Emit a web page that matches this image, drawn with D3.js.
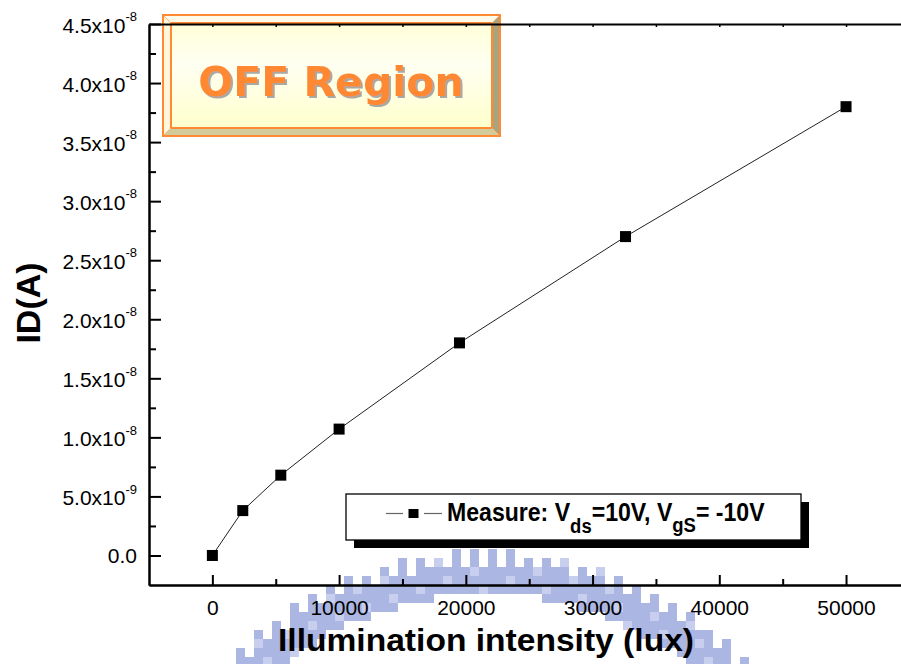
<!DOCTYPE html>
<html>
<head>
<meta charset="utf-8">
<script src="https://cdn.jsdelivr.net/npm/d3@7"></script>
<style>
  html, body { margin: 0; padding: 0; background: #fff; overflow: hidden; }
  svg { display: block; }
</style>
</head>
<body>
<svg id="chart" width="901" height="664"></svg>
<script>
// Measured drain current vs. illumination (OFF region)
const illuminance = [0, 2400, 5400, 10000, 19500, 32600, 50000];      // lux
const drainCurrent = [0, 3.8e-9, 6.8e-9, 1.07e-8, 1.8e-8, 2.7e-8, 3.8e-8]; // A

const xMajorTicks = [0, 10000, 20000, 30000, 40000, 50000];
const xMinorTicks = [5000, 15000, 25000, 35000, 45000];
const xTopTicks = [0, 5000, 10000, 15000, 20000, 25000, 30000, 35000, 40000, 45000, 50000];

const yMajorTicks = [0, 5e-9, 1e-8, 1.5e-8, 2e-8, 2.5e-8, 3e-8, 3.5e-8, 4e-8, 4.5e-8];
const yTickMantissa = ["0.0", "5.0x10", "1.0x10", "1.5x10", "2.0x10", "2.5x10", "3.0x10", "3.5x10", "4.0x10", "4.5x10"];
const yTickExponent = ["", "-9", "-8", "-8", "-8", "-8", "-8", "-8", "-8", "-8"];
const yMinorTicks = [2.5e-9, 7.5e-9, 1.25e-8, 1.75e-8, 2.25e-8, 2.75e-8, 3.25e-8, 3.75e-8, 4.25e-8];

const xTitle = "Illumination intensity (lux)";
const yTitle = "ID(A)";
const boxTitle = "OFF Region";

const svg = d3.select("#chart");
const W = 901, H = 664;

const x = d3.scaleLinear().domain([-5000, 55000]).range([149, 909.4]);
const y = d3.scaleLinear().domain([-2.5e-9, 4.5e-8]).range([585, 24]);

const sans = "'Liberation Sans', Arial, sans-serif";
const defs = svg.append("defs");

// ---- faint pixel seal behind the x-axis title ----
const seal = svg.append("g").attr("class", "seal");
const sealCx = 487, sealCy = 920, sealR = 368, sealBand = 42, cell = 9;
const sealCells = [];
for (let gx = 236; gx < 744; gx += cell) {
  for (let gy = 540; gy < H; gy += cell) {
    const cx = gx + cell / 2, cy = gy + cell / 2;
    const d = Math.hypot(cx - sealCx, cy - sealCy);
    const col = Math.floor((gx - 236) / cell);
    const row = Math.floor((gy - 540) / cell);
    if (d < sealR - sealBand || d > sealR) continue;
    if (d > sealR - 12 && col % 2 === 1) continue;
    sealCells.push({ gx, gy, col, row });
  }
}
seal.selectAll("rect").data(sealCells).join("rect")
  .attr("x", d => d.gx).attr("y", d => d.gy)
  .attr("width", cell).attr("height", cell)
  .attr("fill", d => ((d.col * 3 + d.row * 2) % 7 === 0) ? "#c8cfee" : "#abb6e2");

// ---- axes ----
function styleAxis(g) {
  g.attr("font-family", sans);
  g.select(".domain").attr("stroke", "#000").attr("stroke-width", 2);
  g.selectAll(".tick line").attr("stroke", "#000").attr("stroke-width", 2);
}

const gxAxis = svg.append("g").attr("transform", "translate(0,585)")
  .call(d3.axisBottom(x).tickValues(xMajorTicks).tickSize(-10).tickSizeOuter(0)
    .tickFormat(d3.format("d")));
styleAxis(gxAxis);
gxAxis.selectAll(".tick text").attr("font-size", 21).attr("fill", "#000")
  .attr("y", 30).attr("dy", 0);

const gxMinor = svg.append("g").attr("transform", "translate(0,585)")
  .call(d3.axisBottom(x).tickValues(xMinorTicks).tickSize(-6).tickSizeOuter(0).tickFormat(""));
styleAxis(gxMinor);

const gyAxis = svg.append("g").attr("transform", "translate(149,0)")
  .call(d3.axisLeft(y).tickValues(yMajorTicks).tickSize(-12).tickSizeOuter(0)
    .tickPadding(12).tickFormat((d, i) => yTickMantissa[i]));
styleAxis(gyAxis);
gyAxis.selectAll(".tick text")
  .attr("font-size", 21).attr("fill", "#000").attr("dy", 0)
  .attr("y", (d, i) => yTickExponent[i] ? 8.4 : 7.5)
  .each(function (d, i) {
    if (!yTickExponent[i]) return;
    d3.select(this).append("tspan")
      .attr("font-size", 13).attr("dy", -11.7)
      .text(yTickExponent[i]);
  });

const gyMinor = svg.append("g").attr("transform", "translate(149,0)")
  .call(d3.axisLeft(y).tickValues(yMinorTicks).tickSize(-7).tickSizeOuter(0).tickFormat(""));
styleAxis(gyMinor);

// axis titles
svg.append("text")
  .attr("x", 486).attr("y", 651)
  .attr("text-anchor", "middle")
  .attr("font-family", sans).attr("font-weight", "bold").attr("font-size", 32)
  .attr("textLength", 416).attr("lengthAdjust", "spacingAndGlyphs")
  .text(xTitle);

svg.append("text")
  .attr("transform", "translate(39.5,303) rotate(-90)")
  .attr("text-anchor", "middle")
  .attr("font-family", sans).attr("font-weight", "bold").attr("font-size", 34)
  .text(yTitle);

// ---- data ----
const pts = illuminance.map((v, i) => [v, drainCurrent[i]]);
svg.append("path")
  .datum(pts)
  .attr("fill", "none").attr("stroke", "#222").attr("stroke-width", 1)
  .attr("d", d3.line().x(d => x(d[0])).y(d => y(d[1])));

const ms = 11;
svg.append("g").selectAll("rect").data(pts).join("rect")
  .attr("x", d => x(d[0]) - ms / 2).attr("y", d => y(d[1]) - ms / 2)
  .attr("width", ms).attr("height", ms).attr("fill", "#000");

// ---- legend ----
const lg = svg.append("g");
const lx = 346, ly = 494, lw = 455, lh = 46;
lg.append("rect").attr("x", lx + 8).attr("y", ly + 8).attr("width", lw).attr("height", lh).attr("fill", "#000");
lg.append("rect").attr("x", lx).attr("y", ly).attr("width", lw).attr("height", lh)
  .attr("fill", "#fff").attr("stroke", "#000").attr("stroke-width", 1.3);
[[386, 403], [424, 442]].forEach(s => {
  lg.append("line").attr("x1", s[0]).attr("x2", s[1]).attr("y1", 513.5).attr("y2", 513.5)
    .attr("stroke", "#666").attr("stroke-width", 1.2);
});
lg.append("rect").attr("x", 413.5 - 5).attr("y", 513.5 - 4.5).attr("width", 10).attr("height", 9).attr("fill", "#000");

const lt = lg.append("text")
  .attr("font-family", sans).attr("font-weight", "bold").attr("font-size", 25).attr("fill", "#000");
lt.append("tspan").text("Measure: V");
lt.append("tspan").attr("font-size", 20).attr("dy", 12).text("ds");
lt.append("tspan").attr("dy", -12).text("=10V, V");
lt.append("tspan").attr("font-size", 20).attr("dy", 11).text("gS");
lt.append("tspan").attr("dy", -11).text("= -10V");
const ltw = lt.node().getBBox().width;
lt.attr("transform", `translate(447,520.7) scale(${318 / ltw},1)`);

// ---- "OFF Region" bevelled caption box ----
const bx0 = 163, by0 = 15, bx1 = 500, by1 = 136, bv = 8;
const grad = defs.append("linearGradient").attr("id", "faceGrad")
  .attr("x1", 0).attr("y1", 0).attr("x2", 0).attr("y2", 1);
grad.append("stop").attr("offset", "0%").attr("stop-color", "#ffffd8");
grad.append("stop").attr("offset", "40%").attr("stop-color", "#fffff2");
grad.append("stop").attr("offset", "100%").attr("stop-color", "#ffffcc");

const shadow = defs.append("filter").attr("id", "capShadow")
  .attr("x", "-10%").attr("y", "-20%").attr("width", "130%").attr("height", "150%");
shadow.append("feDropShadow").attr("dx", 2).attr("dy", 2).attr("stdDeviation", 0.4)
  .attr("flood-color", "#9a9a9a").attr("flood-opacity", 0.85);

const bxg = svg.append("g");
const poly = (p, fill) => bxg.append("polygon").attr("points", p.map(q => q.join(",")).join(" ")).attr("fill", fill);
const ix0 = bx0 + bv, iy0 = by0 + bv, ix1 = bx1 - bv, iy1 = by1 - bv;
poly([[bx0, by0], [bx1, by0], [ix1, iy0], [ix0, iy0]], "#fffbea");
poly([[bx0, by0], [ix0, iy0], [ix0, iy1], [bx0, by1]], "#fff6dc");
poly([[bx1, by0], [bx1, by1], [ix1, iy1], [ix1, iy0]], "#a8a47e");
poly([[bx0, by1], [ix0, iy1], [ix1, iy1], [bx1, by1]], "#d2cc9a");
bxg.append("rect").attr("x", ix0).attr("y", iy0).attr("width", ix1 - ix0).attr("height", iy1 - iy0)
  .attr("fill", "url(#faceGrad)").attr("stroke", "#ff8a33").attr("stroke-width", 2);
[[bx0, by0, ix0, iy0], [bx1, by0, ix1, iy0], [bx0, by1, ix0, iy1], [bx1, by1, ix1, iy1]].forEach(s => {
  bxg.append("line").attr("x1", s[0]).attr("y1", s[1]).attr("x2", s[2]).attr("y2", s[3])
    .attr("stroke", "#ffb070").attr("stroke-width", 1);
});
bxg.append("rect").attr("x", bx0).attr("y", by0).attr("width", bx1 - bx0).attr("height", by1 - by0)
  .attr("fill", "none").attr("stroke", "#ff8a33").attr("stroke-width", 2);

const capFont = "'DejaVu Sans', Verdana, sans-serif";
bxg.append("text").attr("x", 331).attr("y", 96).attr("text-anchor", "middle")
  .attr("font-family", capFont).attr("font-weight", "bold").attr("font-size", 41)
  .attr("fill", "#ff8833").attr("filter", "url(#capShadow)").text(boxTitle);

// top frame line with small inward ticks, drawn over the caption box
const gTop = svg.append("g").attr("transform", "translate(0,24)")
  .call(d3.axisTop(x).tickValues(xTopTicks).tickSize(-3).tickSizeOuter(0).tickFormat(""));
styleAxis(gTop);
gTop.selectAll(".tick line").attr("stroke-width", 1.5);
</script>
</body>
</html>
